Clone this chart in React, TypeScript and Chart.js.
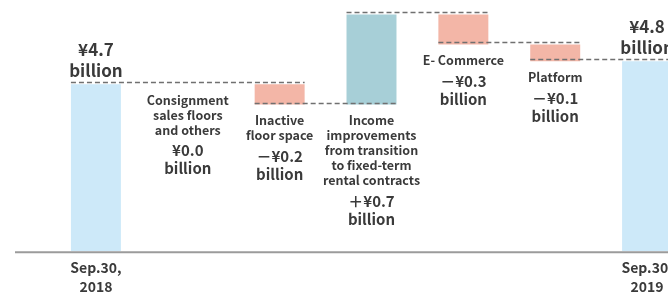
import React, { useEffect, useRef } from 'react';
import { Chart, registerables } from 'chart.js';

Chart.register(...registerables);

// ---- data ----
const categories = [
  'Sep.30, 2018',
  'Consignment sales floors and others',
  'Inactive floor space',
  'Income improvements from transition to fixed-term rental contracts',
  'E- Commerce',
  'Platform',
  'Sep.30, 2019',
];
const startTotal = 4.69;
const changes = [0.0, -0.17, 0.75, -0.25, -0.14];
const endTotal = 4.88;
const axisMin = 3.3;
const axisMax = 5.39;

const xTickLabels: (string | string[])[] = [
  ['Sep.30,', '2018'],
  '',
  '',
  '',
  '',
  '',
  ['Sep.30,', '2019'],
];
const descLabels: string[][] = [
  [],
  ['Consignment', 'sales floors', 'and others'],
  ['Inactive', 'floor space'],
  ['Income', 'improvements', 'from transition', 'to fixed-term', 'rental contracts'],
  ['E- Commerce'],
  ['Platform'],
  [],
];
const valueLabels: string[][] = [
  ['¥4.7', 'billion'],
  ['¥0.0', 'billion'],
  ['－¥0.2', 'billion'],
  ['＋¥0.7', 'billion'],
  ['－¥0.3', 'billion'],
  ['－¥0.1', 'billion'],
  ['¥4.8', 'billion'],
];

// ---- derived ----
const bars: [number, number][] = [];
const levels: number[] = [];
(() => {
  bars.push([axisMin, startTotal]);
  levels.push(startTotal);
  let level = startTotal;
  for (const c of changes) {
    const next = level + c;
    bars.push([Math.min(level, next), Math.max(level, next)]);
    levels.push(next);
    level = next;
  }
  bars.push([axisMin, endTotal]);
  levels.push(endTotal);
})();

const COLOR_TOTAL = '#cde9f9';
const COLOR_UP = '#a7cfd7';
const COLOR_DOWN = '#f3b6a7';
const TEXT = '#3a3a3a';
const FONT = '"Noto Sans CJK JP", "Noto Sans", sans-serif';

const barColors = bars.map((_, i) => {
  if (i === 0 || i === bars.length - 1) return COLOR_TOTAL;
  return changes[i - 1] > 0 ? COLOR_UP : COLOR_DOWN;
});

const decorPlugin = {
  id: 'waterfallDecor',
  afterDatasetsDraw(chart: any) {
    const ctx: CanvasRenderingContext2D = chart.ctx;
    const meta = chart.getDatasetMeta(0);
    const y = chart.scales.y;
    const area = chart.chartArea;
    const n = meta.data.length;

    // dashed connectors
    ctx.save();
    ctx.strokeStyle = '#707070';
    ctx.lineWidth = 1.3;
    ctx.setLineDash([5, 3]);
    let i = 0;
    while (i < n - 1) {
      let j = i + 1;
      while (j < n - 1 && changes[j - 1] === 0) j++;
      const a: any = meta.data[i];
      const b: any = meta.data[j];
      const py = Math.round(y.getPixelForValue(levels[i])) - 1.5;
      ctx.beginPath();
      ctx.moveTo(a.x - a.width / 2, py);
      ctx.lineTo(b.x + b.width / 2, py);
      ctx.stroke();
      i = j;
    }
    ctx.restore();

    // baseline
    ctx.save();
    ctx.strokeStyle = '#9b9b9b';
    ctx.lineWidth = 2;
    ctx.beginPath();
    ctx.moveTo(15, area.bottom + 1);
    ctx.lineTo(chart.width, area.bottom + 1);
    ctx.stroke();
    ctx.restore();

    // labels
    ctx.save();
    ctx.fillStyle = TEXT;
    ctx.textAlign = 'center';
    ctx.textBaseline = 'middle';
    for (let k = 0; k < n; k++) {
      const el: any = meta.data[k];
      const cx = el.x;
      const isTotal = k === 0 || k === n - 1;
      if (isTotal) {
        const topPx = y.getPixelForValue(bars[k][1]);
        const vals = valueLabels[k];
        ctx.font = `bold 17px ${FONT}`;
        let yy = topPx - 14 - (vals.length - 1) * 21;
        for (const t of vals) {
          ctx.fillText(t, cx, yy);
          yy += 21;
        }
      } else {
        const bottomPx = y.getPixelForValue(bars[k][0]);
        let yy = bottomPx + 16;
        const desc = descLabels[k];
        ctx.font = `bold 12.5px ${FONT}`;
        for (const t of desc) {
          ctx.fillText(t, cx, yy);
          yy += 15;
        }
        if (desc.length) yy += 20.5 - 15;
        ctx.font = `bold 15px ${FONT}`;
        for (const t of valueLabels[k]) {
          ctx.fillText(t, cx, yy);
          yy += 18;
        }
      }
    }
    ctx.restore();
  },
};

export default function App() {
  const ref = useRef<HTMLCanvasElement | null>(null);
  useEffect(() => {
    if (!ref.current) return;
    const chart = new Chart(ref.current, {
      type: 'bar',
      data: {
        labels: categories,
        datasets: [
          {
            data: bars as any,
            backgroundColor: barColors,
            borderWidth: 0,
            barPercentage: 0.544,
            categoryPercentage: 1,
          },
        ],
      },
      options: {
        responsive: false,
        animation: false,
        layout: { padding: { left: 50, right: 0, top: 0, bottom: 0 } },
        plugins: { legend: { display: false }, tooltip: { enabled: false } },
        scales: {
          x: {
            grid: { display: false, drawTicks: false },
            border: { display: false },
            ticks: {
              autoSkip: false,
              maxRotation: 0,
              padding: 7,
              color: TEXT,
              font: { family: FONT, size: 14, weight: 'bold', lineHeight: 1.35 },
              callback: (_v: any, idx: number) => xTickLabels[idx],
            },
          },
          y: { display: false, min: axisMin, max: axisMax },
        },
      },
      plugins: [decorPlugin],
    });
    return () => chart.destroy();
  }, []);
  return (
    <div
      style={{
        position: 'fixed',
        left: 0,
        top: 0,
        width: 668,
        height: 292,
        overflow: 'hidden',
        background: '#fff',
      }}
    >
      <canvas ref={ref} width={693} height={303} />
    </div>
  );
}
